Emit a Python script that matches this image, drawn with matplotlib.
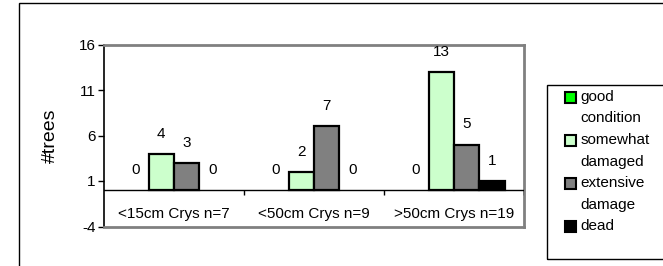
import numpy as np
import matplotlib
matplotlib.use("Agg")
import matplotlib.pyplot as plt
from matplotlib.patches import Patch, Rectangle
from matplotlib.legend_handler import HandlerPatch

plt.rcParams['font.family'] = ['Liberation Sans', 'DejaVu Sans']
plt.rcParams['axes.unicode_minus'] = False

# data
categories = ['<15cm Crys n=7', '<50cm Crys n=9', '>50cm Crys n=19']
series = ['good\ncondition', 'somewhat\ndamaged', 'extensive\ndamage', 'dead\n ']
good = [0, 0, 0]
somewhat = [4, 2, 13]
extensive = [3, 7, 5]
dead = [0, 0, 1]
yticks = [-4, 1, 6, 11, 16]

colors = ['#00FF00', '#CCFFCC', '#808080', '#000000']
values = [good, somewhat, extensive, dead]

LEG_FS = 11
LEG_LS = 1.68

fig = plt.figure(figsize=(6.63, 2.66), dpi=100)
ax = fig.add_axes([104 / 663, 39.5 / 266, 420 / 663, 182 / 266])

x = np.arange(len(categories))
bw = 0.182
for k, (vals, col) in enumerate(zip(values, colors)):
    xs = x + (k - 1.5) * bw
    edges = ['black' if v else 'none' for v in vals]
    ax.bar(xs, vals, width=bw, color=col, edgecolor=edges, linewidth=1.6, zorder=3)
    for xi, v in zip(xs, vals):
        ax.annotate(str(v), (xi, v), xytext=(0, 14.5), textcoords='offset points',
                    ha='center', va='center', fontsize=11)

ax.set_xlim(-0.5, len(categories) - 0.5)
ax.set_ylim(yticks[0], yticks[-1])
ax.set_yticks(yticks)
ax.set_xticks([])
ax.tick_params(axis='y', direction='out', length=4, width=1, labelsize=11, pad=2)
ax.set_ylabel('#trees', fontsize=14, labelpad=14)

for s in ['top', 'right', 'bottom']:
    ax.spines[s].set_color('#808080')
    ax.spines[s].set_linewidth(2)
ax.spines['left'].set_color('black')
ax.spines['left'].set_linewidth(1.2)

# category axis crossing at zero, with tick marks between categories
ax.axhline(0, color='black', linewidth=1, zorder=4)
bounds = np.arange(len(categories) + 1) - 0.5
ax.vlines(bounds[1:], 0, -0.5, color='black', linewidth=1, zorder=4)
for xi, lab in zip(x, categories):
    ax.text(xi, -2.6, lab, ha='center', va='center', fontsize=11)

# outer chart border and legend box
fig.patches.append(Rectangle((19 / 663, -0.1), 1.0, 1.1 - 3 / 266, transform=fig.transFigure,
                             fill=False, edgecolor='black', linewidth=1))
fig.patches.append(Rectangle((547 / 663, 1 - 259 / 266), 0.3, (259 - 85) / 266,
                             transform=fig.transFigure, fill=False, edgecolor='black', linewidth=1))


# legend marker sits next to the first line of a two-line label
def top_square(legend, orig_handle, xdescent, ydescent, width, height, fontsize):
    shift = fontsize * LEG_LS * 0.41
    return Rectangle((-xdescent, -ydescent + shift), width, height)


handles = [Patch(facecolor=c, edgecolor='black', linewidth=1.5) for c in colors]
leg = fig.legend(handles, series, loc='upper left', bbox_to_anchor=(565 / 663, 1 - 90 / 266),
                 frameon=False, fontsize=LEG_FS, borderpad=0, borderaxespad=0,
                 handlelength=0.7, handleheight=0.7, handletextpad=0.3, labelspacing=0.5,
                 handler_map={Patch: HandlerPatch(patch_func=top_square)})
for t in leg.get_texts():
    t.set_linespacing(LEG_LS)

fig.savefig('out.png', dpi=100)
